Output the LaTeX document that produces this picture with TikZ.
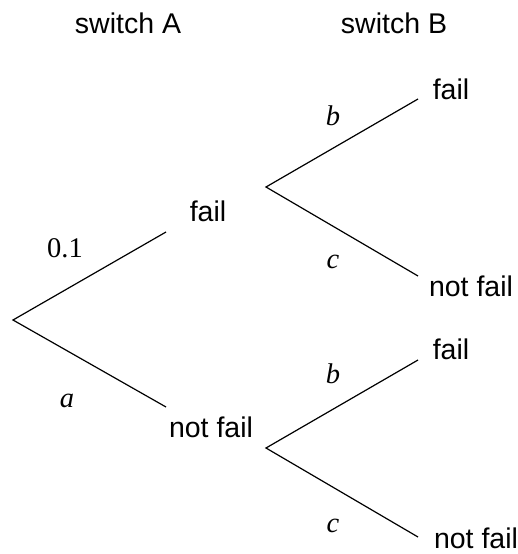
\documentclass[tikz,border=0pt]{standalone}
\usepackage{fontspec}
\setmainfont{Liberation Sans}
\newfontfamily\tnr{Liberation Serif}
\begin{document}
\begin{tikzpicture}[x=1pt,y=-1pt,
  lbl/.style={anchor=base,inner sep=0pt,font=\fontsize{28.5}{34}\selectfont},
  prob/.style={anchor=base,inner sep=0pt,font=\fontsize{28.5}{34}\selectfont\tnr},
  branch/.style={line width=1.2pt}]
\useasboundingbox (0,0) rectangle (518,554);
% headers
\node[lbl] (hA) at (128,33) {switch A};
\node[lbl] (hB) at (394,33) {switch B};
% line points
\coordinate (root) at (13,320);
\coordinate (Af) at (166,232);
\coordinate (An) at (166,407);
\coordinate (Bu) at (266,187);
\coordinate (Bl) at (266,448);
\coordinate (Buf) at (418,99);
\coordinate (Bun) at (418,276);
\coordinate (Blf) at (418,360);
\coordinate (Bln) at (418,537);
% branches
\draw[branch] (Af) -- (root) -- (An);
\draw[branch] (Buf) -- (Bu) -- (Bun);
\draw[branch] (Blf) -- (Bl) -- (Bln);
% outcome labels
\node[lbl] (tAf) at (208,221) {fail};
\node[lbl] (tAn) at (211,437) {not fail};
\node[lbl] (tBuf) at (451,99) {fail};
\node[lbl] (tBun) at (471,296) {not fail};
\node[lbl] (tBlf) at (451,359) {fail};
\node[lbl] (tBln) at (476,548) {not fail};
% probabilities
\node[prob] (p01) at (65,257) {0.1};
\node[prob] (pa) at (67,407) {\itshape a};
\node[prob] (pbu) at (333,125) {\itshape b};
\node[prob] (pcu) at (333,268) {\itshape c};
\node[prob] (pbl) at (333,383) {\itshape b};
\node[prob] (pcl) at (333,532) {\itshape c};
\end{tikzpicture}
\end{document}
